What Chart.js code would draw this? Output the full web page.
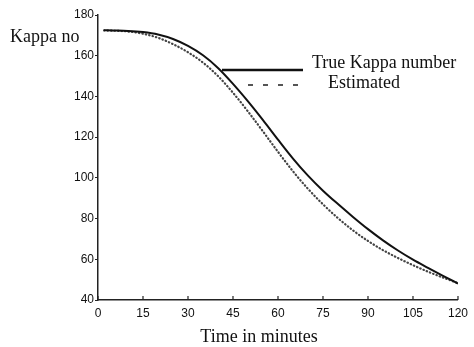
<!DOCTYPE html>
<html>
<head>
<meta charset="utf-8">
<script src="https://cdn.jsdelivr.net/npm/chart.js@4.4.1/dist/chart.umd.min.js"></script>
<style>
  html, body { margin: 0; padding: 0; background: #fff; }
</style>
</head>
<body>
<canvas id="kappaChart" width="474" height="347"></canvas>
<script>
// cooking time (min) and kappa number
let times = [2, 5, 10, 15, 20, 25, 30, 35, 40, 45, 50, 55, 60, 65, 70, 75, 80, 85, 90, 95, 100, 105, 110, 115, 120];
let trueKappa = [172.5, 172.4, 172.2, 171.6, 170.4, 168.2, 164.8, 160.2, 154.0, 146.2, 137.6, 128.4, 118.8, 109.5, 101.1, 93.7, 87.1, 80.8, 74.8, 69.3, 64.3, 59.8, 55.8, 51.9, 48.1];
let estimated = [172.4, 172.3, 171.9, 170.8, 168.8, 165.7, 161.7, 156.6, 150.0, 141.8, 132.6, 122.8, 112.8, 103.2, 94.6, 87.0, 80.2, 74.2, 69.0, 64.5, 60.6, 57.1, 53.9, 51.0, 48.3];
let xTicks = [0, 15, 30, 45, 60, 75, 90, 105, 120];
let yTicks = [40, 60, 80, 100, 120, 140, 160, 180];

let serif = 'Liberation Serif';
let sans = 'Liberation Sans';

// axis labels, legend and inward x ticks drawn by hand
let extras = {
	id: 'extras',
	afterDatasetsDraw(chart) {
		let ctx = chart.ctx;
		let x = chart.scales.x;
		let area = chart.chartArea;
		ctx.save();
		ctx.strokeStyle = '#222';
		ctx.lineWidth = 1.2;
		xTicks.forEach((v) => {
			let px = x.getPixelForValue(v);
			ctx.beginPath();
			ctx.moveTo(px, area.bottom);
			ctx.lineTo(px, area.bottom - 4);
			ctx.stroke();
		});

		ctx.fillStyle = '#111';
		ctx.font = '18px "' + serif + '"';
		ctx.textBaseline = 'middle';
		ctx.textAlign = 'left';
		ctx.fillText('Kappa no', 10, 37);

		// legend
		ctx.strokeStyle = '#111';
		ctx.lineWidth = 2.5;
		ctx.beginPath();
		ctx.moveTo(222, 70);
		ctx.lineTo(303, 70);
		ctx.stroke();

		ctx.strokeStyle = '#555';
		ctx.lineWidth = 2;
		ctx.setLineDash([5, 10]);
		ctx.beginPath();
		ctx.moveTo(248, 85);
		ctx.lineTo(300, 85);
		ctx.stroke();
		ctx.setLineDash([]);

		ctx.fillText('True Kappa number', 312, 63);
		ctx.fillText('Estimated', 328, 83);

		ctx.textAlign = 'center';
		ctx.fillText('Time in minutes', 259, 337);
		ctx.restore();
	}
};

let ctx = document.getElementById('kappaChart').getContext('2d');

let myChart = new Chart(ctx, {
	type: 'line',
	data: {
		datasets: [{
			label: 'True Kappa number',
			data: times.map((t, i) => ({ x: t, y: trueKappa[i] })),
			borderColor: '#111',
			borderWidth: 2,
			pointRadius: 0,
			cubicInterpolationMode: 'monotone'
		}, {
			label: 'Estimated',
			data: times.map((t, i) => ({ x: t, y: estimated[i] })),
			borderColor: '#444',
			borderWidth: 2.2,
			borderDash: [0.5, 3],
			borderCapStyle: 'round',
			pointRadius: 0,
			cubicInterpolationMode: 'monotone'
		}]
	},
	options: {
		responsive: false,
		animation: false,
		layout: {
			padding: { left: 0, right: 16, top: 15, bottom: 0 }
		},
		plugins: {
			legend: { display: false },
			tooltip: { enabled: false }
		},
		scales: {
			x: {
				type: 'linear',
				min: 0,
				max: 120,
				afterBuildTicks: (s) => { s.ticks = xTicks.map((v) => ({ value: v })); },
				afterFit: (s) => { s.height = 47; },
				grid: { drawOnChartArea: false, drawTicks: false },
				border: { color: '#222', width: 1.5 },
				ticks: {
					padding: 6,
					color: '#111',
					font: { family: sans, size: 12 },
					maxRotation: 0
				}
			},
			y: {
				min: 40,
				max: 180,
				afterBuildTicks: (s) => { s.ticks = yTicks.map((v) => ({ value: v })); },
				afterFit: (s) => { s.width = 98; },
				grid: { drawOnChartArea: false, drawTicks: true, tickLength: 3, color: '#222' },
				border: { color: '#222', width: 1.5 },
				ticks: {
					padding: 1,
					color: '#111',
					font: { family: sans, size: 12 }
				}
			}
		}
	},
	plugins: [extras]
});
</script>
</body>
</html>
